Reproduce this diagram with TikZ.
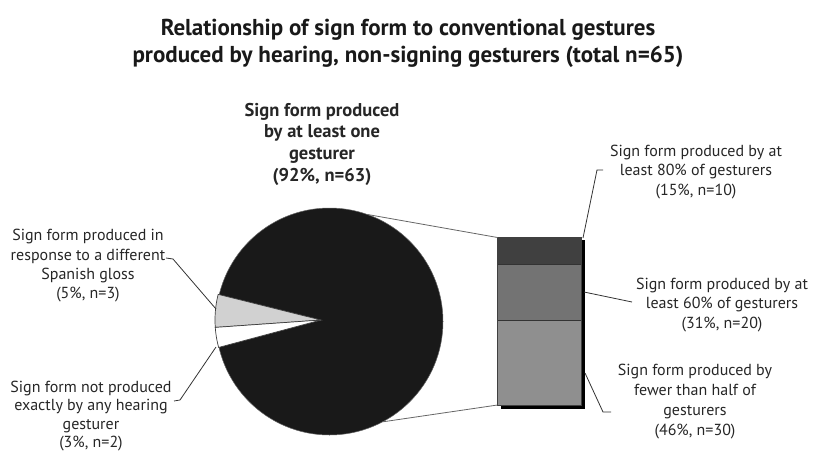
\documentclass[tikz,border=0pt]{standalone}
\usepackage{fontspec}
\setmainfont{PT Sans}
\begin{document}
\begin{tikzpicture}[x=1pt,y=-1pt,
  lbl/.style={align=center,font=\fontsize{16}{19.3}\selectfont,text=black!85,inner sep=0pt},
  lead/.style={draw=black!80,line width=0.8pt},
  seg/.style={draw=black!80,line width=0.7pt}]
\useasboundingbox (0,0) rectangle (813,458);
% title
\node[align=center,font=\fontsize{23}{27}\selectfont\bfseries,text=black!90,inner sep=0pt] (title) at (408,43)
  {Relationship of sign form to conventional gestures\\produced by hearing, non-signing gesturers (total n=65)};
% pie
\coordinate (pc) at (329.5,321.5);
\coordinate (c) at (321,320);
\fill[black!90] (pc) circle[radius=113.5];
\draw[black!60,line width=0.5pt] (pc) circle[radius=113.5];
\filldraw[fill=black!18,draw=black!75,line width=0.7pt] (c) -- ++(-166:106) arc[start angle=-166,end angle=-184,radius=106] -- cycle;
\filldraw[fill=white,draw=black!75,line width=0.7pt] (c) -- ++(-184:106) arc[start angle=-184,end angle=-195,radius=106] -- cycle;
% stacked bar
\fill[black] (501,240) rectangle (584.5,408.5);
\fill[black!75] (497.5,237.5) rectangle (581,264.5);
\fill[black!55] (497.5,264.5) rectangle (581,320.5);
\fill[black!44] (497.5,320.5) rectangle (581,405);
\draw[seg] (497.5,264.5) -- (581,264.5);
\draw[seg] (497.5,320.5) -- (581,320.5);
\draw[black!75,line width=0.6pt] (497.5,237.5) rectangle (581,405);
\coordinate (rtl) at (497.5,237.5);
\coordinate (rbl) at (497.5,405);
% zoom lines
\coordinate (ptop) at (367,214.4);
\coordinate (pbot) at (383,421.8);
\draw[black!60,line width=0.8pt] (ptop) -- (rtl);
\draw[black!60,line width=0.8pt] (pbot) -- (rbl);
% labels
\node[lbl,font=\fontsize{18.5}{21.7}\selectfont\bfseries] (main) at (322,144)
  {Sign form produced\\by at least one\\gesturer\\(92\%, n=63)};
\node[lbl] (lt) at (88,266)
  {Sign form produced in\\response to a different\\Spanish gloss\\(5\%, n=3)};
\node[lbl,font=\fontsize{16}{18.5}\selectfont] (lb) at (91,416)
  {Sign form not produced\\exactly by any hearing\\gesturer\\(3\%, n=2)};
\node[lbl] (rt) at (696,172)
  {Sign form produced by at\\least 80\% of gesturers\\(15\%, n=10)};
\node[lbl] (rm) at (722,305)
  {Sign form produced by at\\least 60\% of gesturers\\(31\%, n=20)};
\node[lbl,font=\fontsize{16}{20}\selectfont] (rb) at (695,402)
  {Sign form produced by\\fewer than half of\\gesturers\\(46\%, n=30)};
% leaders
\coordinate (l1a) at (166,258);
\coordinate (l1b) at (173,259);
\coordinate (l1c) at (216,309);
\draw[lead] (l1a) -- (l1b) -- (l1c);
\coordinate (l2a) at (174,401);
\coordinate (l2b) at (180,400);
\coordinate (l2c) at (216,347);
\draw[lead] (l2a) -- (l2b) -- (l2c);
\coordinate (r1a) at (583,238);
\coordinate (r1b) at (597,170);
\coordinate (r1c) at (603,170);
\draw[lead] (r1a) -- (r1b) -- (r1c);
\coordinate (r2a) at (584,292);
\coordinate (r2b) at (632,302);
\draw[lead] (r2a) -- (r2b);
\coordinate (r3a) at (585,373);
\coordinate (r3b) at (603,412);
\coordinate (r3c) at (611,412);
\draw[lead] (r3a) -- (r3b) -- (r3c);
\end{tikzpicture}
\end{document}
